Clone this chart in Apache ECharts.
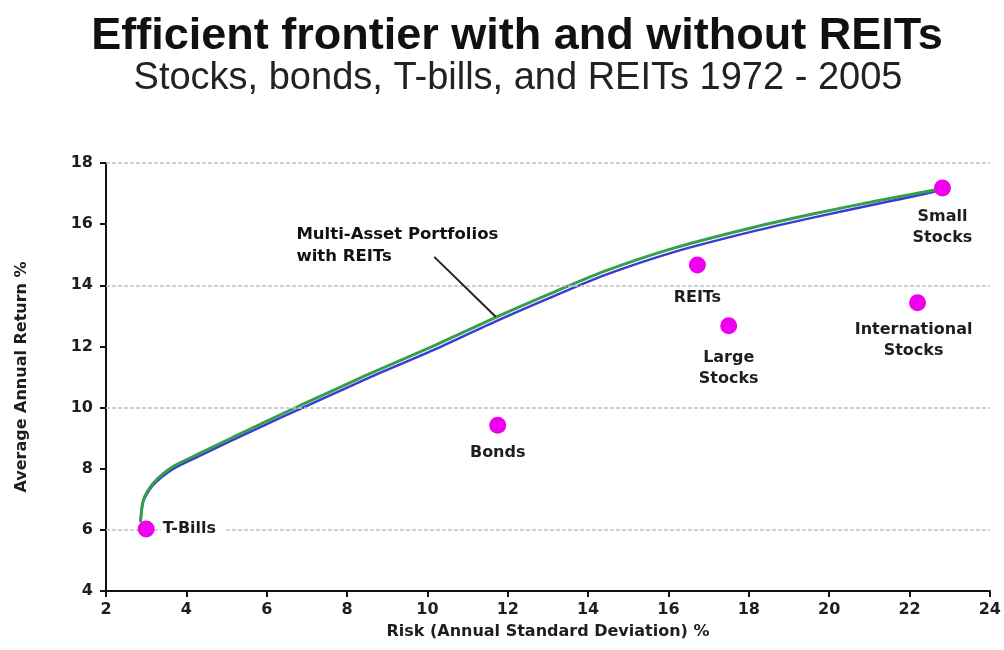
<!DOCTYPE html>
<html><head><meta charset="utf-8">
<script src="https://cdn.jsdelivr.net/npm/echarts@6/dist/echarts.min.js"></script>
<style>html,body{margin:0;padding:0;background:#fff}#c{width:1004px;height:650px}</style>
</head><body><div id="c"></div>
<script>
// ---------- data ----------
const titleText = 'Efficient frontier with and without REITs';
const subtitleText = 'Stocks, bonds, T-bills, and REITs 1972 - 2005';
const xAxisName = 'Risk (Annual Standard Deviation) %';
const yAxisName = 'Average Annual Return %';
const xTickValues = [2, 4, 6, 8, 10, 12, 14, 16, 18, 20, 22, 24];
const yTickValues = [4, 6, 8, 10, 12, 14, 16, 18];
const gridLineValues = [6, 10, 14, 18];

const assetNames = ['T-Bills', 'Bonds', 'REITs', 'Large\nStocks', 'International\nStocks', 'Small\nStocks'];
const assetRisk = [3.0, 11.75, 16.72, 17.5, 22.2, 22.82];
const assetReturn = [6.03, 9.42, 14.66, 12.68, 13.43, 17.18];

const frontierRisk = [2.86, 2.93, 3.17, 3.67, 4.33, 5.16, 5.99, 6.82, 8.47, 10.13, 11.70, 13.03, 14.43, 16.09, 18.0, 19.65, 21.30, 22.63, 22.82];
const withReitsReturn = [6.25, 6.98, 7.52, 8.07, 8.50, 9.03, 9.55, 10.06, 11.05, 12.0, 12.95, 13.71, 14.47, 15.2, 15.86, 16.35, 16.79, 17.12, 17.18];
const withoutReitsReturn = [6.25, 6.94, 7.46, 7.99, 8.42, 8.94, 9.45, 9.95, 10.93, 11.87, 12.82, 13.58, 14.34, 15.07, 15.73, 16.23, 16.69, 17.07, 17.18];

const annotationText = 'Multi-Asset Portfolios\nwith REITs';
const annotationAt = [6.74, 15.28];
const pointerFrom = [10.17, 14.93];
const pointerTo = [11.70, 12.97];

// ---------- styles ----------
const labelFont = { fontFamily: 'DejaVu Sans', fontWeight: 'bold', fontSize: 16, color: '#1e1e1e', lineHeight: 21 };
const labelPlacement = {
  'T-Bills': { position: 'right', distance: 6, backgroundColor: '#fff', padding: [2, 10, 2, 2], lineHeight: 18 },
  'Bonds': { position: 'bottom', distance: 9 },
  'REITs': { position: 'bottom', distance: 14 },
  'Large\nStocks': { position: 'bottom', distance: 13 },
  'International\nStocks': { position: 'bottom', distance: 8, offset: [-4, 0] },
  'Small\nStocks': { position: 'bottom', distance: 10 }
};

const chart = echarts.init(document.getElementById('c'), null, { renderer: 'canvas' });

const assetData = assetNames.map((n, i) => ({
  value: [assetRisk[i], assetReturn[i]],
  name: n,
  label: Object.assign({ show: true, formatter: n }, labelFont, labelPlacement[n])
}));

const axisText = { fontFamily: 'DejaVu Sans', fontWeight: 'bold', fontSize: 16, color: '#1e1e1e' };

chart.setOption({
  animation: false,
  backgroundColor: '#fff',
  graphic: [
    { type: 'text', x: 517, y: 37, style: { text: titleText, font: 'bold 45px "Liberation Sans", Arial, sans-serif', fill: '#111', align: 'center', verticalAlign: 'middle' } },
    { type: 'text', x: 518, y: 79, style: { text: subtitleText, font: '38px "Liberation Sans", Arial, sans-serif', fill: '#222', align: 'center', verticalAlign: 'middle' } }
  ],
  grid: { left: 106, right: 12, top: 163, bottom: 59, containLabel: false },
  xAxis: {
    type: 'value', min: xTickValues[0], max: xTickValues[xTickValues.length - 1], interval: 2,
    axisLine: { show: true, onZero: false, lineStyle: { color: '#111', width: 2 } },
    axisTick: { show: true, length: 6, lineStyle: { color: '#111', width: 2 } },
    axisLabel: Object.assign({ margin: 11 }, axisText),
    splitLine: { show: false },
    name: xAxisName, nameLocation: 'middle', nameGap: 33,
    nameTextStyle: Object.assign({}, axisText)
  },
  yAxis: {
    type: 'value', min: yTickValues[0], max: yTickValues[yTickValues.length - 1], interval: 2,
    axisLine: { show: true, onZero: false, lineStyle: { color: '#111', width: 2 } },
    axisTick: { show: true, length: 6, lineStyle: { color: '#111', width: 2 } },
    axisLabel: Object.assign({ margin: 13 }, axisText),
    splitLine: { show: false },
    name: yAxisName, nameLocation: 'middle', nameGap: 76, nameRotate: 90,
    nameTextStyle: Object.assign({}, axisText)
  },
  series: [
    {
      type: 'line', data: [], z: 1, silent: true,
      markLine: {
        silent: true, symbol: 'none', animation: false,
        label: { show: false },
        lineStyle: { color: '#c2c2c2', width: 1.5, type: [4, 2] },
        data: gridLineValues.map(v => ({ yAxis: v }))
      }
    },
    {
      name: 'Without REITs', type: 'line', z: 2, smooth: 0.25, showSymbol: false,
      data: frontierRisk.map((x, i) => [x, withoutReitsReturn[i]]),
      lineStyle: { color: '#3a3ad6', width: 2.5 }
    },
    {
      name: 'With REITs', type: 'line', z: 3, smooth: 0.25, showSymbol: false,
      data: frontierRisk.map((x, i) => [x, withReitsReturn[i]]),
      lineStyle: { color: '#35a04a', width: 3 },
      markLine: {
        silent: true, symbol: 'none', animation: false,
        label: { show: false },
        lineStyle: { color: '#222', width: 2, type: 'solid' },
        data: [[{ coord: pointerFrom }, { coord: pointerTo }]]
      }
    },
    {
      type: 'scatter', z: 4, silent: true, symbolSize: 0,
      itemStyle: { opacity: 1 },
      data: [{ value: annotationAt }],
      label: Object.assign({ show: true, position: 'right', distance: 0, formatter: annotationText, align: 'left' }, labelFont, { fontSize: 16.5, lineHeight: 22, color: '#111' })
    },
    {
      name: 'Assets', type: 'scatter', z: 5, symbolSize: 17,
      itemStyle: { color: '#ee00ee', opacity: 1 },
      data: assetData
    }
  ]
});
</script></body></html>
